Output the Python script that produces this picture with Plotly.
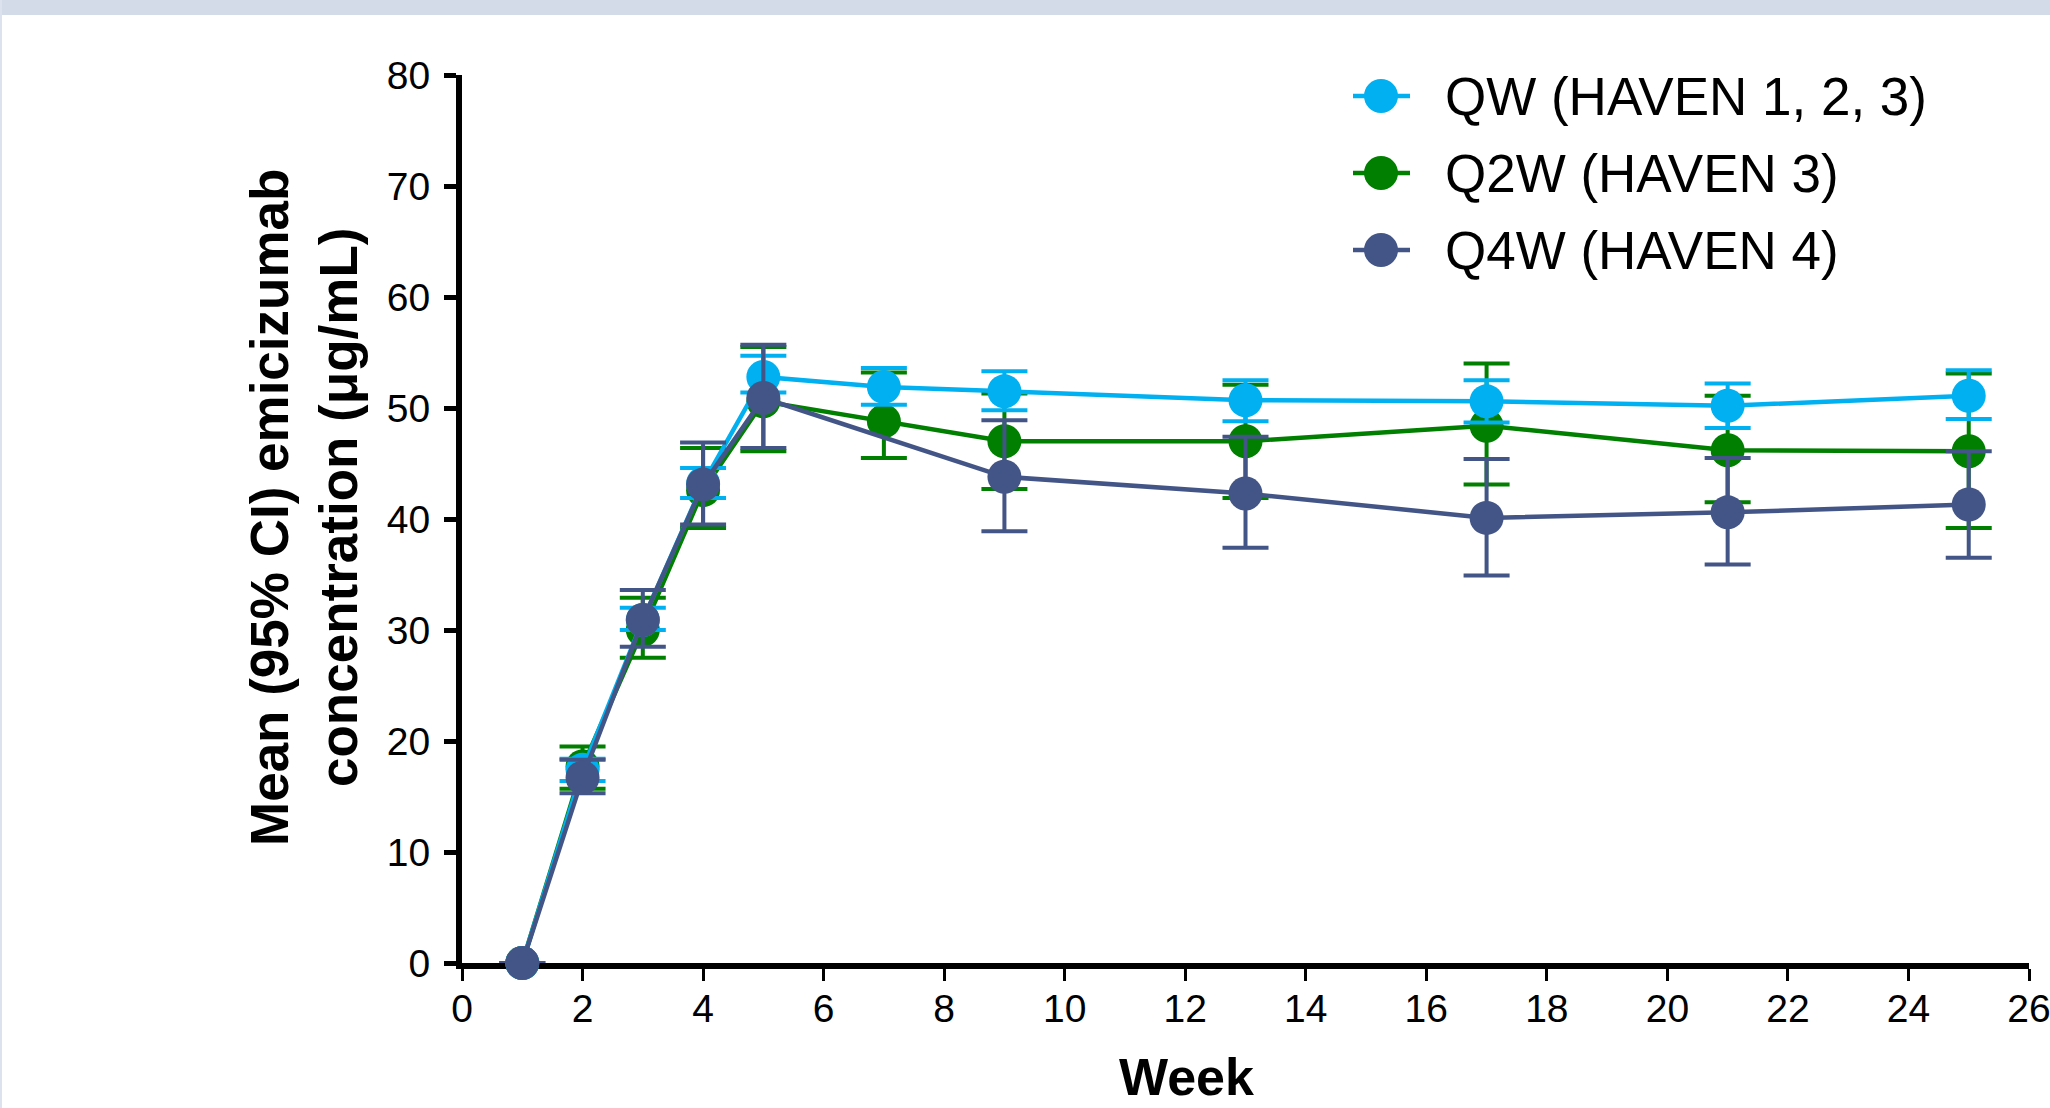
import plotly.graph_objects as go

# ---------------- data ----------------
weeks = [1, 2, 3, 4, 5, 7, 9, 13, 17, 21, 25]

qw_mean = [0, 17.4, 30.9, 43.2, 52.8, 51.9, 51.5, 50.7, 50.6, 50.2, 51.1]
qw_upper = [0, 18.4, 32.0, 44.6, 54.7, 53.6, 53.3, 52.5, 52.5, 52.2, 53.4]
qw_lower = [0, 16.4, 30.0, 41.9, 51.4, 50.3, 49.8, 48.8, 48.7, 48.2, 49.0]

q2w_mean = [0, 17.7, 30.0, 42.6, 50.6, 48.8, 47.0, 47.0, 48.4, 46.2, 46.1]
q2w_upper = [0, 19.5, 32.9, 46.4, 55.5, 53.2, 51.3, 52.1, 54.0, 51.1, 53.1]
q2w_lower = [0, 15.7, 27.5, 39.2, 46.1, 45.5, 42.7, 41.9, 43.1, 41.5, 39.2]

q4w_mean = [0, 16.7, 30.9, 43.1, 50.9, None, 43.8, 42.3, 40.1, 40.6, 41.3]
q4w_upper = [0, 18.3, 33.6, 46.9, 55.7, None, 48.9, 47.4, 45.4, 45.5, 46.1]
q4w_lower = [0, 15.3, 28.5, 39.5, 46.4, None, 38.9, 37.4, 34.9, 35.9, 36.5]

series_names = ["QW (HAVEN 1, 2, 3)", "Q2W (HAVEN 3)", "Q4W (HAVEN 4)"]

y_ticks = [0, 10, 20, 30, 40, 50, 60, 70, 80]
x_ticks = [0, 2, 4, 6, 8, 10, 12, 14, 16, 18, 20, 22, 24, 26]

y_title = "Mean (95% CI) emicizumab<br>concentration (μg/mL)"
x_title = "Week"

# ---------------- styling ----------------
FONT = "Liberation Sans, Arial, Helvetica, sans-serif"
C_QW = "#00B0F0"
C_Q2W = "#007F00"
C_Q4W = "#435586"
series_colors = [C_QW, C_Q2W, C_Q4W]

W, H = 2050, 1108
ML, MR, MT, MB = 462, 21, 75, 145
PW, PH = W - ML - MR, H - MT - MB


def px_to_paper_x(px):
    return (px - ML) / PW


def px_to_paper_y(py):
    return (H - MB - py) / PH


def plus(mean, upper):
    return [None if m is None else u - m for m, u in zip(mean, upper)]


def minus(mean, lower):
    return [None if m is None else m - l for m, l in zip(mean, lower)]


def make_trace(name, mean, upper, lower, color):
    return go.Scatter(
        x=weeks,
        y=mean,
        name=name,
        mode="lines+markers",
        connectgaps=True,
        cliponaxis=False,
        showlegend=False,
        line=dict(color=color, width=4.5),
        marker=dict(size=34, color=color),
        error_y=dict(
            type="data",
            symmetric=False,
            array=plus(mean, upper),
            arrayminus=minus(mean, lower),
            color=color,
            thickness=4,
            width=23,
        ),
    )


fig = go.Figure()
# drawing order as in the reference: Q2W at bottom, QW, then Q4W on top
fig.add_trace(make_trace(series_names[1], q2w_mean, q2w_upper, q2w_lower, C_Q2W))
fig.add_trace(make_trace(series_names[0], qw_mean, qw_upper, qw_lower, C_QW))
fig.add_trace(make_trace(series_names[2], q4w_mean, q4w_upper, q4w_lower, C_Q4W))

axis_common = dict(
    showline=True,
    linecolor="black",
    linewidth=6,
    ticks="outside",
    ticklen=12,
    tickcolor="black",
    showgrid=False,
    zeroline=False,
    automargin=False,
    tickfont=dict(family=FONT, size=39, color="black"),
    layer="below traces",
    ticklabeloverflow="allow",
)

fig.update_xaxes(range=[0, 26], tickvals=x_ticks, ticktext=[str(v) for v in x_ticks],
                 tickwidth=3, ticklabelstandoff=-6, **axis_common)
fig.update_yaxes(range=[0, 80], tickvals=y_ticks, ticktext=[str(v) for v in y_ticks],
                 tickwidth=5, ticklabelstandoff=6, **axis_common)

annotations = [
    dict(
        text=y_title,
        textangle=-90,
        x=px_to_paper_x(304),
        y=px_to_paper_y(508),
        xref="paper",
        yref="paper",
        xanchor="center",
        yanchor="middle",
        showarrow=False,
        font=dict(family=FONT, size=53, color="black", weight="bold"),
    ),
    dict(
        text=f"<b>{x_title}</b>",
        x=px_to_paper_x(1186),
        y=px_to_paper_y(1046),
        xref="paper",
        yref="paper",
        xanchor="center",
        yanchor="top",
        showarrow=False,
        font=dict(family=FONT, size=52, color="black"),
    ),
]

shapes = [
    # light band across the top of the slide
    dict(type="rect", xref="paper", yref="paper",
         x0=px_to_paper_x(0), x1=px_to_paper_x(W),
         y0=px_to_paper_y(15), y1=px_to_paper_y(0),
         fillcolor="#D3DAE8", line=dict(width=0), layer="below"),
    # thin frame line on the left edge
    dict(type="rect", xref="paper", yref="paper",
         x0=px_to_paper_x(0), x1=px_to_paper_x(2),
         y0=px_to_paper_y(H), y1=px_to_paper_y(0),
         fillcolor="#DCE2EE", line=dict(width=0), layer="below"),
]

# legend (symbol line + marker + label), laid out like the reference
legend_rows_px = [96, 173, 250]
legend_symbol_x_px = 1381
legend_text_x_px = 1443
for name, color, row in zip(series_names, series_colors, legend_rows_px):
    ax = px_to_paper_x(legend_symbol_x_px)
    ay = px_to_paper_y(row)
    shapes.append(dict(type="line", xref="paper", yref="paper",
                       xsizemode="pixel", ysizemode="pixel",
                       xanchor=ax, yanchor=ay, x0=-28, x1=29, y0=0, y1=0,
                       line=dict(color=color, width=4.5)))
    shapes.append(dict(type="circle", xref="paper", yref="paper",
                       xsizemode="pixel", ysizemode="pixel",
                       xanchor=ax, yanchor=ay, x0=-17, x1=17, y0=-17, y1=17,
                       fillcolor=color, line=dict(width=0)))
    annotations.append(dict(
        text=name,
        x=px_to_paper_x(legend_text_x_px),
        y=ay,
        xref="paper",
        yref="paper",
        xanchor="left",
        yanchor="middle",
        showarrow=False,
        font=dict(family=FONT, size=53, color="black"),
    ))

fig.update_layout(
    width=W,
    height=H,
    margin=dict(l=ML, r=MR, t=MT, b=MB, pad=0, autoexpand=False),
    paper_bgcolor="white",
    plot_bgcolor="white",
    font=dict(family=FONT, color="black"),
    showlegend=False,
    annotations=annotations,
    shapes=shapes,
)

fig.write_html(
    "out.html",
    include_plotlyjs=True,
    config={"displayModeBar": False},
    post_script="document.body.style.margin='0';document.body.style.overflow='hidden';",
)
